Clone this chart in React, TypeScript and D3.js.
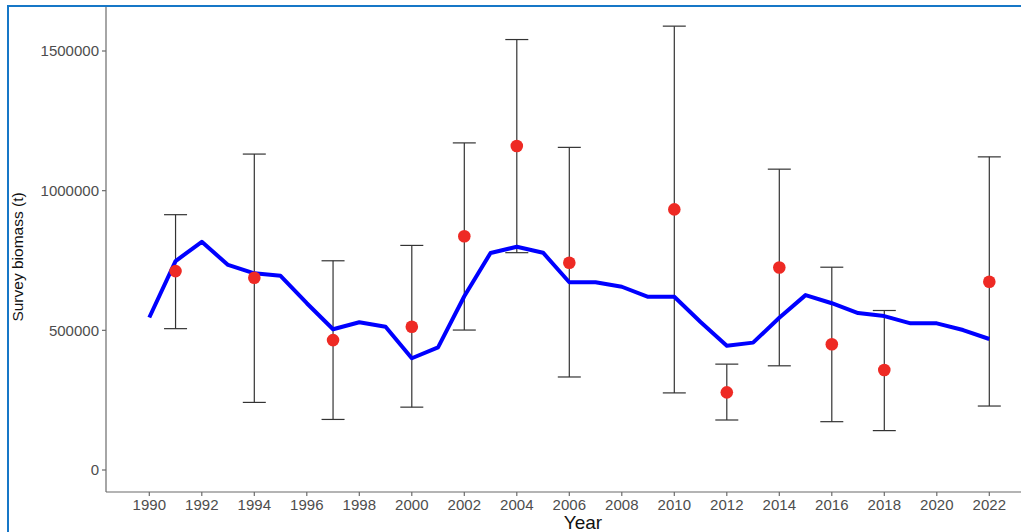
import React from "react";
import * as d3 from "d3";

const lineYears = d3.range(1990, 2023);
const modelBiomass = [
  546000, 748000, 817000, 734000, 704000, 695000, 597000, 504000, 529000, 513000,
  400000, 439000, 622000, 777000, 799000, 778000, 672000, 672000, 656000, 620000,
  620000, 530000, 445000, 456000, 545000, 626000, 597000, 562000, 551000, 525000,
  525000, 501000, 469000,
];

const surveyYears = [1991, 1994, 1997, 2000, 2002, 2004, 2006, 2010, 2012, 2014, 2016, 2018, 2022];
const surveyBiomass = [712000, 688000, 465000, 513000, 837000, 1160000, 742000, 933000, 278000, 725000, 450000, 358000, 674000];
const surveyUpper = [914000, 1131000, 749000, 804000, 1171000, 1541000, 1155000, 1589000, 379000, 1077000, 726000, 571000, 1121000];
const surveyLower = [506000, 242000, 181000, 225000, 501000, 778000, 333000, 276000, 179000, 373000, 173000, 141000, 229000];

const xTicks = d3.range(1990, 2023, 2);
const yTicks = [0, 500000, 1000000, 1500000];

const W = 1021;
const H = 532;

export default function App() {
  const x = d3.scaleLinear().domain([1990, 2022]).range([149.3, 989.3]);
  const y = d3.scaleLinear().domain([0, 1500000]).range([470, 51]);
  const axisX = 106;
  const axisY = 492;
  const line = d3
    .line<number>()
    .x((_, i) => x(lineYears[i]))
    .y((d) => y(d));
  const font = "'Liberation Sans', Arial, sans-serif";
  const cap = 11.5;

  return (
    <svg
      width={W}
      height={H}
      style={{ position: "absolute", left: 0, top: 0, background: "#fff" }}
      fontFamily={font}
    >
      <rect x={0} y={0} width={W} height={H} fill="#fff" />
      {/* frame */}
      <line x1={8} x2={8} y1={5} y2={H} stroke="#1677c7" strokeWidth={2} />
      <line x1={7} x2={W} y1={6} y2={6} stroke="#1677c7" strokeWidth={2} />

      {/* axes */}
      <line x1={axisX} x2={axisX} y1={7} y2={axisY} stroke="#6b6b6b" strokeWidth={1.2} />
      <line x1={axisX} x2={W} y1={axisY} y2={axisY} stroke="#6b6b6b" strokeWidth={1.2} />
      {yTicks.map((t) => (
        <g key={"y" + t}>
          <line x1={axisX - 4} x2={axisX} y1={y(t)} y2={y(t)} stroke="#6b6b6b" strokeWidth={1.2} />
          <text x={axisX - 7} y={y(t)} dy="0.35em" textAnchor="end" fontSize={15} fill="#4d4d4d">
            {t}
          </text>
        </g>
      ))}
      {xTicks.map((t) => (
        <g key={"x" + t}>
          <line x1={x(t)} x2={x(t)} y1={axisY} y2={axisY + 4} stroke="#6b6b6b" strokeWidth={1.2} />
          <text x={x(t)} y={axisY + 18} textAnchor="middle" fontSize={15} fill="#4d4d4d">
            {t}
          </text>
        </g>
      ))}
      <text x={583} y={529} textAnchor="middle" fontSize={19} fill="#111">
        Year
      </text>
      <text
        transform={`translate(23,257) rotate(-90)`}
        textAnchor="middle"
        fontSize={15.5}
        fill="#111"
      >
        Survey biomass (t)
      </text>

      {/* error bars */}
      {surveyYears.map((yr, i) => (
        <g key={"e" + yr} stroke="#333" strokeWidth={1.2}>
          <line x1={x(yr)} x2={x(yr)} y1={y(surveyUpper[i])} y2={y(surveyLower[i])} />
          <line x1={x(yr) - cap} x2={x(yr) + cap} y1={y(surveyUpper[i])} y2={y(surveyUpper[i])} />
          <line x1={x(yr) - cap} x2={x(yr) + cap} y1={y(surveyLower[i])} y2={y(surveyLower[i])} />
        </g>
      ))}

      {/* model line */}
      <path d={line(modelBiomass) || ""} fill="none" stroke="#0000ff" strokeWidth={4} strokeLinejoin="round" />

      {/* survey points */}
      {surveyYears.map((yr, i) => (
        <circle key={"p" + yr} cx={x(yr)} cy={y(surveyBiomass[i])} r={6.3} fill="#ee2a24" />
      ))}
    </svg>
  );
}
